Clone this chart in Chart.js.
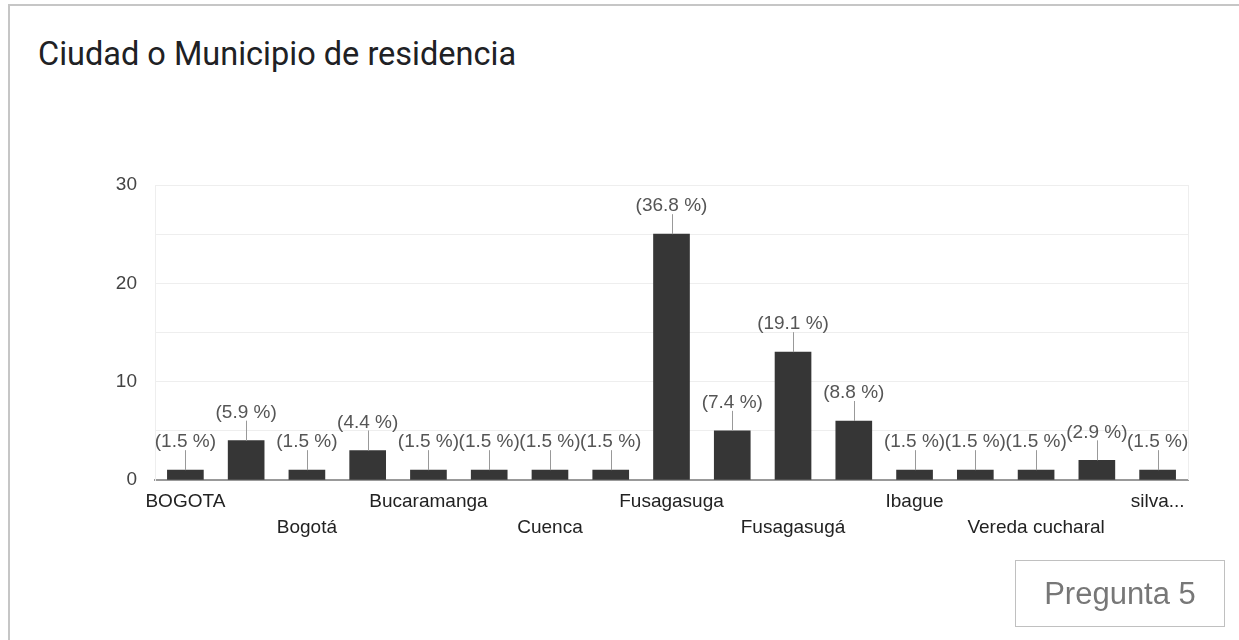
<!DOCTYPE html>
<html>
<head>
<meta charset="utf-8">
<script src="https://cdn.jsdelivr.net/npm/chart.js@4"></script>
<style>
    body { margin: 0; background: #fff; overflow: hidden; }
    #frame { position: absolute; left: 8px; top: 4px; width: 1300px; height: 700px; border: 2px solid #c6c6c6; }
    #title { position: absolute; left: 38px; top: 35px; font-family: Roboto, sans-serif; font-size: 32.5px; color: #202124; }
    #wrap { position: absolute; left: 0; top: 0; width: 1239px; height: 640px; }
    #tag { position: absolute; left: 1015px; top: 560px; width: 208px; height: 65px; border: 1px solid #c0c0c0;
           font-family: Arial, "Liberation Sans", sans-serif; font-size: 31px; color: #777; text-align: center; line-height: 65px; }
</style>
</head>
<body>
<div id="frame"></div>
<div id="title">Ciudad o Municipio de residencia</div>
<div id="wrap"><canvas id="barChart" width="1239" height="640"></canvas></div>
<div id="tag">Pregunta 5</div>
<script>
// categories (odd ones are not printed on the axis in the original, names guessed)
const categories = ['BOGOTA', 'Bogota', 'Bogotá', 'Bogotá D.C.', 'Bucaramanga', 'Cali', 'Cuenca', 'FUSAGASUGA',
    'Fusagasuga', 'Fusagasuga ', 'Fusagasugá', 'Fusagasugá ', 'Ibague', 'Pasca', 'Vereda cucharal', 'fusagasuga', 'silva...'];
// number of answers per city
const counts = [1, 4, 1, 3, 1, 1, 1, 1, 25, 5, 13, 6, 1, 1, 1, 2, 1];
const yTicks = [0, 10, 20, 30];

const total = counts.reduce((a, b) => a + b, 0);
const font = 'Arial, "Liberation Sans", sans-serif';

// percent labels with the little leader line, like google forms does it
const pctLabels = {
    id: 'pctLabels',
    afterDatasetsDraw(chart) {
        const ctx = chart.ctx;
        const area = chart.chartArea;
        ctx.save();
        // right edge of the plot
        ctx.strokeStyle = '#eeeeee';
        ctx.lineWidth = 1;
        ctx.beginPath();
        ctx.moveTo(area.right + 0.5, area.top);
        ctx.lineTo(area.right + 0.5, area.bottom);
        ctx.stroke();

        chart.getDatasetMeta(0).data.forEach((bar, i) => {
            const x = Math.round(bar.x) + 0.5;
            ctx.strokeStyle = '#999';
            ctx.beginPath();
            ctx.moveTo(x, bar.y);
            ctx.lineTo(x, bar.y - 20);
            ctx.stroke();
            ctx.fillStyle = '#555';
            ctx.font = '19px ' + font;
            ctx.textAlign = 'center';
            ctx.textBaseline = 'middle';
            ctx.fillText('(' + (counts[i] / total * 100).toFixed(1) + ' %)', bar.x, bar.y - 28);
        });
        ctx.restore();
    }
};

const data1 = {
    labels: categories,
    datasets: [{
        data: counts,
        backgroundColor: '#363636',
        barThickness: 36
    }]
};

const configBar = {
    type: 'bar',
    data: data1,
    options: {
        responsive: false,
        animation: false,
        layout: { padding: { left: 95, top: 185, right: 51, bottom: 80 } },
        plugins: {
            legend: { display: false },
            tooltip: { enabled: false }
        },
        scales: {
            x: {
                grid: { display: false },
                border: { color: '#999', width: 2 },
                afterFit: (axis) => { axis.height = 80; },
                ticks: {
                    autoSkip: false,
                    maxRotation: 0,
                    padding: 0,
                    color: '#222',
                    font: { family: font, size: 19, lineHeight: 1.4 },
                    callback: function (v, i) {
                        if (i % 2 === 1) return '';
                        return i % 4 === 0 ? categories[i] : ['', categories[i]];
                    }
                }
            },
            y: {
                min: 0,
                max: 30,
                grid: { color: '#eeeeee', drawTicks: false },
                border: { color: '#eeeeee' },
                afterFit: (axis) => { axis.width = 60; },
                ticks: {
                    stepSize: 5,
                    padding: 18,
                    color: '#444',
                    font: { family: font, size: 19 },
                    callback: (v) => yTicks.includes(v) ? v : ''
                }
            }
        }
    },
    plugins: [pctLabels]
};

const getBarChart = document.getElementById('barChart').getContext('2d');
const myBarChart = new Chart(getBarChart, configBar);
</script>
</body>
</html>
